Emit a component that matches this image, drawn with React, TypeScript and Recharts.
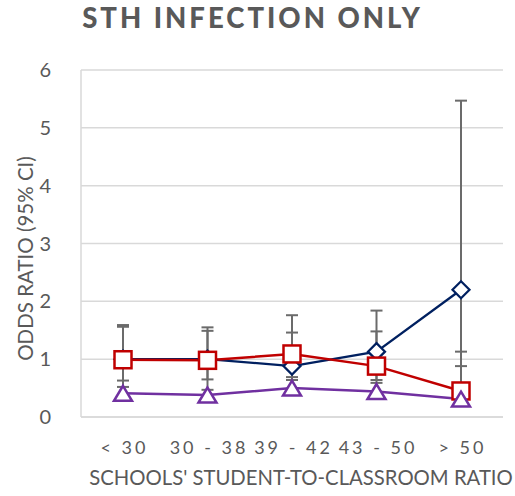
import React from 'react';
import { LineChart, Line, XAxis, YAxis, CartesianGrid, ErrorBar, Label } from 'recharts';

const categories = ['< 30', '30 - 38', '39 - 42', '43 - 50', '> 50'];
const yTicks = [0, 1, 2, 3, 4, 5, 6];

const blueOR = [1.0, 1.0, 0.88, 1.13, 2.2];
const blueLow = [0.52, 0.47, 0.64, 0.64, 0.88];
const blueHigh = [1.59, 1.55, 1.76, 1.84, 5.47];

const redOR = [0.99, 0.98, 1.09, 0.88, 0.45];
const redLow = [0.63, 0.65, 0.69, 0.59, 0.32];
const redHigh = [1.56, 1.49, 1.46, 1.48, 1.13];

const purpleOR = [0.41, 0.38, 0.5, 0.44, 0.31];

const data = categories.map((cat, i) => ({
  cat,
  blue: blueOR[i],
  blueErr: [blueOR[i] - blueLow[i], blueHigh[i] - blueOR[i]],
  red: redOR[i],
  redErr: [redOR[i] - redLow[i], redHigh[i] - redOR[i]],
  purple: purpleOR[i],
}));

const TEXT = '#595959';
const FONT = 'Lato, "Open Sans", sans-serif';

const Diamond = (props: any) => {
  const { cx, cy, index } = props;
  if (cx == null || cy == null) return null;
  const r = 8.5;
  return (
    <path
      key={`d-${index}`}
      d={`M${cx},${cy - r}L${cx + r},${cy}L${cx},${cy + r}L${cx - r},${cy}Z`}
      fill="#fff"
      stroke="#002060"
      strokeWidth={2.25}
    />
  );
};

const Square = (props: any) => {
  const { cx, cy, index } = props;
  if (cx == null || cy == null) return null;
  const h = 8.5;
  return (
    <rect
      key={`s-${index}`}
      x={cx - h}
      y={cy - h}
      width={2 * h}
      height={2 * h}
      fill="#fff"
      stroke="#C00000"
      strokeWidth={2.5}
    />
  );
};

const Triangle = (props: any) => {
  const { cx, cy, index } = props;
  if (cx == null || cy == null) return null;
  const w = 9, h = 7.5;
  return (
    <path
      key={`t-${index}`}
      d={`M${cx},${cy - h}L${cx + w},${cy + h}L${cx - w},${cy + h}Z`}
      fill="#fff"
      stroke="#7030A0"
      strokeWidth={2.5}
      strokeLinejoin="miter"
    />
  );
};

const XTick = (props: any) => {
  const { x, y, payload } = props;
  return (
    <text
      x={x + 1.5}
      y={y + 29}
      textAnchor="middle"
      fontSize={18}
      letterSpacing={3}
      fill={TEXT}
      fontFamily={FONT}
    >
      {payload.value}
    </text>
  );
};

export default function App() {
  return (
    <div style={{ position: 'absolute', left: 0, top: 0, width: 515, height: 496, background: '#fff' }}>
      <div
        style={{
          position: 'absolute',
          left: 0,
          top: 1,
          width: 505,
          textAlign: 'center',
          fontFamily: FONT,
          fontWeight: 900,
          fontSize: 27.5,
          letterSpacing: 3,
          color: TEXT,
          lineHeight: '34px',
        }}
      >
        STH INFECTION ONLY
      </div>
      <LineChart
        width={515}
        height={496}
        data={data}
        margin={{ top: 70, right: 12, bottom: 0, left: 0 }}
        style={{ fontFamily: FONT }}
      >
        <CartesianGrid vertical={false} stroke="#d9d9d9" strokeWidth={1.5} />
        <XAxis
          dataKey="cat"
          height={79}
          tickLine={false}
          axisLine={{ stroke: '#d9d9d9', strokeWidth: 1.5 }}
          tick={<XTick />}
          interval={0}
          padding={{ left: 42, right: 42 }}
        >
          <Label
            content={(p: any) => {
              const vb = p.viewBox;
              return (
                <text
                  x={vb.x + vb.width / 2 + 9}
                  y={vb.y + 68}
                  textAnchor="middle"
                  fontSize={20.3}
                  fill={TEXT}
                  fontFamily={FONT}
                >
                  SCHOOLS' STUDENT-TO-CLASSROOM RATIO
                </text>
              );
            }}
          />
        </XAxis>
        <YAxis
          width={81}
          domain={[0, 6]}
          ticks={yTicks}
          type="number"
          tickLine={false}
          tickSize={0}
          tickMargin={30}
          axisLine={{ stroke: '#d9d9d9', strokeWidth: 1.5 }}
          tick={{ fill: TEXT, fontSize: 20, fontFamily: FONT }}
          interval={0}
        >
          <Label
            content={(p: any) => {
              const vb = p.viewBox;
              const cx = 25;
              const cy = vb.y + vb.height / 2 + 15;
              return (
                <text
                  x={cx}
                  y={cy}
                  transform={`rotate(-90 ${cx} ${cy})`}
                  textAnchor="middle"
                  dominantBaseline="central"
                  fontSize={20.5}
                  fill={TEXT}
                  fontFamily={FONT}
                >
                  ODDS RATIO (95% CI)
                </text>
              );
            }}
          />
        </YAxis>
        <Line
          type="linear"
          dataKey="blue"
          stroke="#002060"
          strokeWidth={2.25}
          dot={<Diamond />}
          activeDot={false}
          isAnimationActive={false}
        >
          <ErrorBar dataKey="blueErr" direction="y" width={6} stroke="#6b6b6b" strokeWidth={2} />
        </Line>
        <Line
          type="linear"
          dataKey="red"
          stroke="#C00000"
          strokeWidth={2.5}
          dot={<Square />}
          activeDot={false}
          isAnimationActive={false}
        >
          <ErrorBar dataKey="redErr" direction="y" width={6} stroke="#6b6b6b" strokeWidth={2} />
        </Line>
        <Line
          type="linear"
          dataKey="purple"
          stroke="#7030A0"
          strokeWidth={2.5}
          dot={<Triangle />}
          activeDot={false}
          isAnimationActive={false}
        />
      </LineChart>
    </div>
  );
}
